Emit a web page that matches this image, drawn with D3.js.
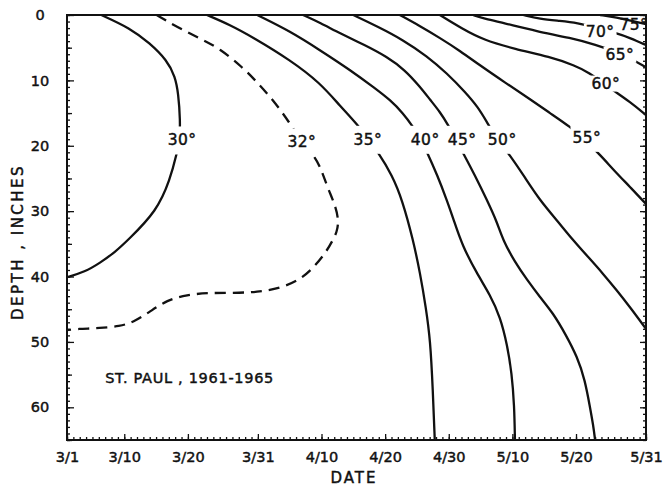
<!DOCTYPE html>
<html>
<head>
<meta charset="utf-8">
<script src="https://cdn.jsdelivr.net/npm/d3@7"></script>
<style>
  body { margin: 0; background: #fff; }
  text { font-family: "DejaVu Sans", sans-serif; fill: #111; stroke: #111; stroke-width: 0.45px; }
</style>
</head>
<body>
<svg width="663" height="487"></svg>
<script>
// set the dimensions and margins of the graph
const W = 663, H = 487;
const margin = {top: 15, right: 17, bottom: 47, left: 67};
const width = W - margin.left - margin.right;
const height = H - margin.top - margin.bottom;

// days counted from 3/1, depth in inches
const tickDays = [0, 9, 19, 30, 40, 50, 60, 70, 80, 91];
const tickDates = ["3/1", "3/10", "3/20", "3/31", "4/10", "4/20", "4/30", "5/10", "5/20", "5/31"];
const depthTicks = [0, 10, 20, 30, 40, 50, 60];

const levels = [30, 32, 35, 40, 45, 50, 55, 60, 65, 70, 75];

// isotherms, [day, depth]
const iso30 = [[5.4,0],[9.9,2.0],[13.0,4.3],[15.7,6.9],[17.0,9.4],[17.5,12.0],[17.8,16.1],[17.7,19.1],[17.3,21.0],[16.2,25.2],[14.1,30.0],[9.6,34.4],[7.5,36.3],[5.2,37.9],[2.8,39.3],[0,40.1]];
const iso32 = [[14.1,0],[17.2,1.8],[20.9,3.6],[24.0,5.1],[27.7,8.1],[29.8,10.2],[32.4,13.0],[35.0,16.5],[36.9,19.4],[38.5,21.1],[39.8,23.1],[40.9,26.3],[42.3,29.4],[42.7,31.7],[42.4,33.2],[41.8,34.4],[40.7,36.3],[38.7,38.7],[36.6,40.5],[33.5,41.8],[29.9,42.4],[26.1,42.5],[22.0,42.5],[18.9,42.8],[15.7,43.6],[13.0,45.4],[10.4,47.0],[8.3,47.6],[5.2,47.9],[1.6,48.0],[0,48.2]];
const iso35 = [[22.0,0],[25.6,1.5],[29.2,3.4],[35.1,6.9],[39.8,10.4],[42.9,13.9],[45.7,16.8],[47.3,19.0],[48.9,21.0],[51.1,24.5],[52.7,28.3],[54.4,34.4],[55.5,39.5],[56.4,44.7],[57.1,49.7],[57.5,57.4],[57.8,65]];
const iso40 = [[29.9,0],[35.1,2.5],[39.8,5.4],[44.5,8.4],[48.4,11.2],[50.8,13.0],[52.8,15.0],[54.4,17.1],[55.6,19.0],[56.6,21.0],[58.2,24.5],[59.7,28.3],[60.8,31.4],[62.1,35.2],[64.4,39.5],[66.5,42.8],[68.1,46.2],[69.2,50.5],[69.9,54.8],[70.3,59.7],[70.4,65]];
const iso45 = [[37.1,0],[39.8,1.2],[42.9,2.8],[46.8,4.6],[50.3,6.4],[53.1,8.4],[55.5,11.0],[57.1,13.0],[58.6,14.8],[59.9,16.8],[61.1,19.0],[62.2,21.0],[64.1,24.5],[66.0,28.3],[67.6,31.7],[68.5,34.4],[70.4,37.8],[72.3,40.5],[74.3,43.1],[76.4,45.6],[78.4,48.9],[80.2,52.3],[81.4,55.8],[82.2,60.0],[82.7,62.7],[83.0,65]];
const iso50 = [[45.0,0],[48.9,1.8],[52.8,3.8],[56.6,6.3],[59.7,8.9],[62.6,11.8],[64.6,14.1],[66.0,16.4],[67.6,19.0],[69.6,21.4],[72.0,24.9],[74.3,28.3],[77.0,31.4],[79.5,34.4],[81.9,37.0],[84.2,39.5],[86.4,42.1],[88.5,44.7],[91.0,48.0]];
const iso55 = [[52.3,0],[55.5,1.7],[58.6,3.5],[61.8,5.5],[64.9,7.7],[68.8,10.3],[72.8,12.9],[75.9,15.0],[79.1,17.1],[81.4,19.1],[83.8,21.4],[86.1,23.9],[88.5,26.3],[91.0,28.9]];
const iso60 = [[58.6,0],[62.1,2.1],[65.4,3.8],[70.4,5.2],[75.9,6.4],[79.8,7.7],[82.2,8.9],[84.1,10.3],[85.8,11.5],[88.5,13.3],[91.0,15.3]];
const iso65 = [[63.8,0],[65.7,0.6],[68.5,1.2],[73.9,2.5],[79.1,3.5],[83.3,4.6],[85.8,5.5],[88.5,6.6],[91.0,8.0]];
const iso70 = [[71.7,0],[74.3,0.6],[77.5,0.9],[80.2,1.2],[83.3,2.0],[86.4,2.8],[88.5,3.5],[91.0,4.6]];
const iso75 = [[83.8,0],[86.4,0.4],[88.8,0.9],[91.0,1.4]];

// where each label sits, [day, depth]
const labelPos = [[18.1,19.1],[36.9,19.4],[47.3,19.0],[56.3,19.0],[62.1,19.0],[68.4,19.0],[81.7,18.7],[84.7,10.4],[86.9,6.0],[83.8,2.45],[89.1,1.4]];

const isotherms = [iso30, iso32, iso35, iso40, iso45, iso50, iso55, iso60, iso65, iso70, iso75];

const svg = d3.select("svg");
const g = svg.append("g")
  .attr("transform", "translate(" + margin.left + "," + margin.top + ")");

const x = d3.scaleLinear().domain([0, 91]).range([0, width]);
const y = d3.scaleLinear().domain([0, 65]).range([0, height]);

g.append("clipPath").attr("id", "plot")
  .append("rect").attr("width", width).attr("height", height);

const line = d3.line()
  .x(d => x(d[0]))
  .y(d => y(d[1]))
  .curve(d3.curveBasis);

g.append("g").attr("clip-path", "url(#plot)")
  .selectAll("path")
  .data(isotherms)
  .enter()
  .append("path")
  .attr("d", line)
  .attr("fill", "none")
  .attr("stroke", "#111")
  .attr("stroke-width", 2.3)
  .attr("stroke-dasharray", (d, i) => levels[i] == 32 ? "11,7" : null);

// axes, ticks pointing in
function strip(sel) { sel.select(".domain").remove(); sel.selectAll("line").attr("stroke", "#111").attr("stroke-width", 1.3); }

g.append("g").call(d3.axisLeft(y).tickValues(d3.range(0, 66)).tickSize(-3).tickFormat("")).call(strip);
g.append("g").call(d3.axisLeft(y).tickValues(d3.range(5, 66, 10)).tickSize(-5).tickFormat("")).call(strip);
g.append("g").call(d3.axisLeft(y).tickValues(depthTicks).tickSize(-7)).call(strip)
  .selectAll("text")
  .attr("x", -27)
  .attr("text-anchor", "middle")
  .style("font-size", "14.5px")
  .style("font-family", "DejaVu Sans");

g.append("g").attr("transform", "translate(" + width + ",0)")
  .call(d3.axisRight(y).tickValues(d3.range(0, 66)).tickSize(-3).tickFormat("")).call(strip);
g.append("g").attr("transform", "translate(" + width + ",0)")
  .call(d3.axisRight(y).tickValues(depthTicks).tickSize(-6).tickFormat("")).call(strip);

g.append("g").attr("transform", "translate(0," + height + ")")
  .call(d3.axisBottom(x).tickValues(d3.range(0, 92)).tickSize(-3).tickFormat("")).call(strip);
g.append("g").attr("transform", "translate(0," + height + ")")
  .call(d3.axisBottom(x).tickValues(tickDays).tickSize(-6).tickFormat((d, i) => tickDates[i])).call(strip)
  .selectAll("text")
  .attr("y", 12)
  .style("font-size", "14.5px")
  .style("font-family", "DejaVu Sans");

g.append("rect")
  .attr("width", width).attr("height", height)
  .attr("fill", "none").attr("stroke", "#111").attr("stroke-width", 2);

// labels: white patch first so the line breaks round the text
const labels = g.append("g");
const texts = labels.selectAll("text")
  .data(levels)
  .enter()
  .append("text")
  .attr("x", (d, i) => x(labelPos[i][0]))
  .attr("y", (d, i) => y(labelPos[i][1]))
  .attr("dy", "0.36em")
  .attr("text-anchor", "middle")
  .style("font-size", "15.5px")
  .style("letter-spacing", "0.4px")
  .text(d => d + "°");

texts.each(function(d) {
  const b = this.getBBox();
  const padY = d >= 60 ? 1 : 7;
  labels.insert("rect", "text")
    .attr("x", b.x - 2).attr("y", b.y - padY + 2)
    .attr("width", b.width + 4).attr("height", b.height + 2 * padY - 4)
    .attr("fill", "#fff")
    .attr("stroke", "none")
    .attr("opacity", d == 75 ? 0 : 1);
});

// titles
svg.append("text")
  .attr("transform", "translate(23,242) rotate(-90)")
  .attr("text-anchor", "middle")
  .style("font-size", "15px")
  .style("letter-spacing", "2.5px")
  .text("DEPTH , INCHES");

svg.append("text")
  .attr("x", 354).attr("y", 483)
  .attr("text-anchor", "middle")
  .style("font-size", "15px")
  .style("letter-spacing", "2px")
  .text("DATE");

g.append("text")
  .attr("x", x(6)).attr("y", y(56.3))
  .style("font-size", "14.5px")
  .style("letter-spacing", "0.7px")
  .text("ST. PAUL , 1961-1965");
</script>
</body>
</html>
